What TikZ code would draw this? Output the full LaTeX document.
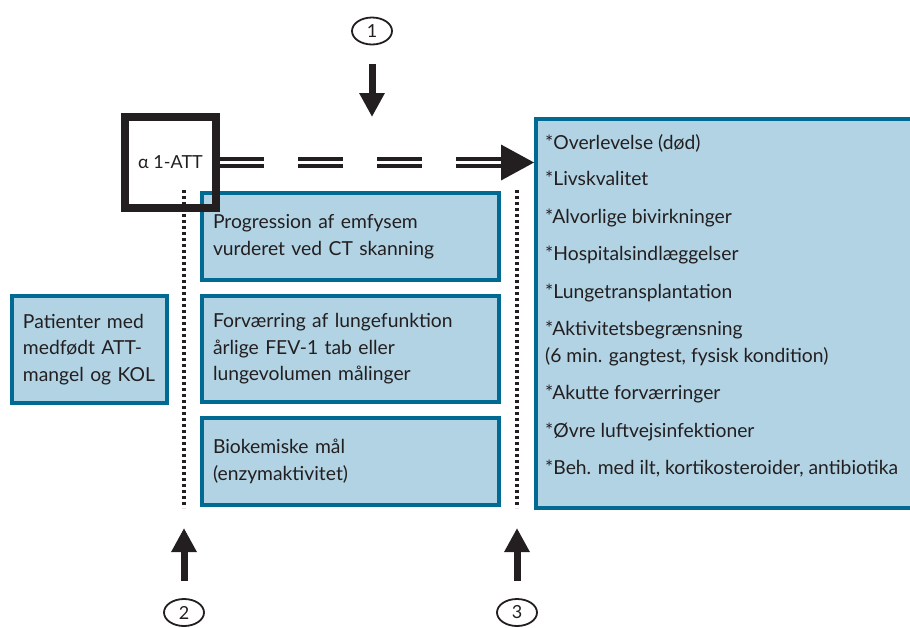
\documentclass[tikz,border=0pt]{standalone}
\usepackage{fontspec}
\setmainfont{Lato}
\usetikzlibrary{arrows.meta,calc,shapes.geometric}
\definecolor{boxfill}{HTML}{B1D3E4}
\definecolor{boxline}{HTML}{006A92}
\definecolor{ink}{HTML}{231F20}
\begin{document}
\begin{tikzpicture}[x=1pt,y=-1pt,
  font=\fontsize{19.3}{26.5}\selectfont, text=ink,
  bluebox/.style={draw=boxline, fill=boxfill, line width=4pt, rectangle,
    inner xsep=11pt, inner ysep=0pt, align=left},
  attbox/.style={draw=ink, line width=8pt, rectangle, minimum width=91pt,
    minimum height=91pt, inner sep=0pt, font=\fontsize{18}{20}\selectfont},
  numcirc/.style={draw=ink, ellipse, line width=1.8pt, minimum width=40pt,
    minimum height=27pt, inner sep=0pt, font=\fontsize{18}{18}\selectfont},
  fatarrow/.style={draw=ink, line width=7pt, -{Triangle[length=24pt,width=24pt]}},
  dotline/.style={draw=ink, line width=4pt, dash pattern=on 2.5pt off 3.5pt},
  dblline/.style={draw=ink, double=white, double distance=2.5pt, line width=4pt,
    dash pattern=on 45pt off 34pt},
  restext/.style={anchor=base west, inner sep=0pt}
]
\useasboundingbox (0,0) rectangle (910,627);

% dotted lines
\coordinate (d2top) at (184,190);
\coordinate (d2bot) at (184,508);
\coordinate (d3top) at (517,190);
\coordinate (d3bot) at (517,508);
\draw[dotline] (d2top) -- (d2bot);
\draw[dotline] (d3top) -- (d3bot);

% boxes
\node[bluebox, text width=133pt, minimum height=107pt] (pat) at (89.5,349.5)
  {Patienter med\\medfødt ATT-\\mangel og KOL};
\node[bluebox, text width=275pt, minimum height=87pt] (prog) at (350.5,236.5)
  {Progression af emfysem\\vurderet ved CT skanning};
\node[bluebox, text width=275pt, minimum height=106pt] (forv) at (350.5,349)
  {Forværring af lungefunktion\\årlige FEV-1 tab eller\\lungevolumen målinger};
\node[bluebox, text width=275pt, minimum height=87pt] (bio) at (350.5,461.5)
  {Biokemiske mål\\(enzymaktivitet)};

\node[bluebox, anchor=north west, minimum width=400pt, minimum height=389pt] (res) at (534,117) {};
\node[restext] (r1) at (545,149) {*Overlevelse (død)};
\node[restext] (r2) at (545,185.5) {*Livskvalitet};
\node[restext] (r3) at (545,223) {*Alvorlige bivirkninger};
\node[restext] (r4) at (545,260) {*Hospitalsindlæggelser};
\node[restext] (r5) at (545,298) {*Lungetransplantation};
\node[restext] (r6) at (545,335) {*Aktivitetsbegrænsning};
\node[restext] (r6b) at (545,362) {(6 min. gangtest, fysisk kondition)};
\node[restext] (r7) at (545,399) {*Akutte forværringer};
\node[restext] (r8) at (545,437) {*Øvre luftvejsinfektioner};
\node[restext] (r9) at (545,474) {*Beh. med ilt, kortikosteroider, antibiotika};

% ATT box
\node[attbox] (att) at (170.5,162.5) {α 1-ATT};

% dashed double arrow
\coordinate (tip) at (res.west |- att.east);
\coordinate (tipbase) at ($(tip)+(-33,0)$);
\draw[dblline] (tipbase) -- (att.east);
\fill[ink] ($(tipbase)+(0,-18)$) -- (tip) -- ($(tipbase)+(0,18)$) -- cycle;

% number labels and arrows
\node[numcirc] (c1) at (372,31) {1};
\node[numcirc] (c2) at (184,612.5) {2};
\node[numcirc] (c3) at (517,612.5) {3};
\coordinate (a1s) at (372,64);
\coordinate (a1e) at (372,117);
\coordinate (a2s) at (184,581);
\coordinate (a2e) at (184,528);
\coordinate (a3s) at (517,581);
\coordinate (a3e) at (517,528);
\draw[fatarrow] (a1s) -- (a1e);
\draw[fatarrow] (a2s) -- (a2e);
\draw[fatarrow] (a3s) -- (a3e);
\end{tikzpicture}
\end{document}
